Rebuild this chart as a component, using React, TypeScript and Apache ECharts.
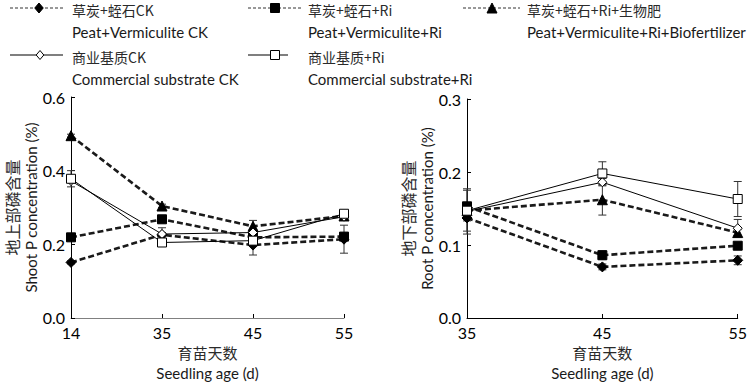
import React, { useEffect, useRef } from "react";
import * as echarts from "echarts";

const shootDays = ["14", "35", "45", "55"];
const rootDays = ["35", "45", "55"];

const seriesZh = ["草炭+蛭石CK", "草炭+蛭石+Ri", "草炭+蛭石+Ri+生物肥", "商业基质CK", "商业基质+Ri"];
const seriesEn = [
  "Peat+Vermiculite CK",
  "Peat+Vermiculite+Ri",
  "Peat+Vermiculite+Ri+Biofertilizer",
  "Commercial substrate CK",
  "Commercial substrate+Ri",
];

// Shoot P concentration (%)
const shootPVCK = [0.151, 0.226, 0.198, 0.214];
const shootPVRi = [0.219, 0.268, 0.219, 0.221];
const shootPVRiB = [0.495, 0.304, 0.249, 0.277];
const shootCSCK = [0.372, 0.228, 0.232, 0.275];
const shootCSRi = [0.378, 0.205, 0.21, 0.283];
// Shoot standard errors
const shootErrPVCK = [0.004, 0.006, 0.027, 0.038];
const shootErrPVRi = [0.005, 0.006, 0.008, 0.01];
const shootErrPVRiB = [0.004, 0.005, 0.016, 0.006];
const shootErrCSCK = [0.004, 0.017, 0.005, 0.005];
const shootErrCSRi = [0.022, 0.005, 0.005, 0.005];

// Root P concentration (%)
const rootPVCK = [0.137, 0.07, 0.079];
const rootPVRi = [0.153, 0.086, 0.099];
const rootPVRiB = [0.147, 0.162, 0.117];
const rootCSCK = [0.146, 0.186, 0.123];
const rootCSRi = [0.147, 0.198, 0.163];
// Root standard errors
const rootErrPVCK = [0.004, 0.004, 0.006];
const rootErrPVRi = [0.004, 0.006, 0.004];
const rootErrPVRiB = [0.004, 0.021, 0.004];
const rootErrCSCK = [0.031, 0.005, 0.012];
const rootErrCSRi = [0.028, 0.016, 0.024];

const shootTicks = [0, 0.2, 0.4, 0.6];
const rootTicks = [0, 0.1, 0.2, 0.3];

const FONT = "Lato, 'Noto Sans CJK SC', sans-serif";
const ZH = "'Noto Sans CJK SC', sans-serif";

type Style = {
  symbol: string;
  size: number;
  fill: string;
  dashed: boolean;
};
const styles: Style[] = [
  { symbol: "diamond", size: 10, fill: "#000", dashed: true },
  { symbol: "rect", size: 9, fill: "#000", dashed: true },
  { symbol: "triangle", size: 10, fill: "#000", dashed: true },
  { symbol: "diamond", size: 9, fill: "#fff", dashed: false },
  { symbol: "rect", size: 9, fill: "#fff", dashed: false },
];

function lineSeries(idx: number, values: number[], axis: number) {
  const s = styles[idx];
  return {
    type: "line",
    name: seriesZh[idx],
    xAxisIndex: axis,
    yAxisIndex: axis,
    data: values,
    symbol: s.symbol,
    symbolSize: s.size,
    showAllSymbol: true,
    z: s.dashed ? 3 : 4,
    itemStyle: { color: s.fill, borderColor: "#000", borderWidth: 1 },
    lineStyle: s.dashed
      ? { color: "#1a1a1a", width: 2.6, type: [6, 3] }
      : { color: "#000", width: 1, type: "solid" },
  };
}

function errSeries(values: number[], errs: number[], axis: number) {
  return {
    type: "custom",
    xAxisIndex: axis,
    yAxisIndex: axis,
    z: 2,
    silent: true,
    data: values.map((v, i) => [i, v - errs[i], v + errs[i]]),
    renderItem: (params: any, api: any) => {
      const lo = api.coord([api.value(0), api.value(1)]);
      const hi = api.coord([api.value(0), api.value(2)]);
      const x = lo[0];
      const w = 4;
      const st = { stroke: "#333", lineWidth: 1 };
      return {
        type: "group",
        children: [
          { type: "line", shape: { x1: x, y1: lo[1], x2: x, y2: hi[1] }, style: st },
          { type: "line", shape: { x1: x - w, y1: lo[1], x2: x + w, y2: lo[1] }, style: st },
          { type: "line", shape: { x1: x - w, y1: hi[1], x2: x + w, y2: hi[1] }, style: st },
        ],
      };
    },
  };
}

function legendItem(idx: number, x0: number, y0: number, lineLen: number, symX: number, textX: number) {
  const s = styles[idx];
  const children: any[] = [];
  children.push({
    type: "line",
    shape: { x1: x0, y1: y0, x2: x0 + lineLen, y2: y0 },
    style: s.dashed
      ? { stroke: "#333", lineWidth: 1, lineDash: [3, 2] }
      : { stroke: "#000", lineWidth: 1.2 },
  });
  const h = s.size / 2;
  if (s.symbol === "diamond") {
    children.push({
      type: "polygon",
      shape: { points: [[symX, y0 - h], [symX + h * 0.85, y0], [symX, y0 + h], [symX - h * 0.85, y0]] },
      style: { fill: s.fill, stroke: "#000", lineWidth: 1 },
    });
  } else if (s.symbol === "rect") {
    children.push({
      type: "rect",
      shape: { x: symX - h, y: y0 - h, width: 2 * h, height: 2 * h },
      style: { fill: s.fill, stroke: "#000", lineWidth: 1 },
    });
  } else {
    children.push({
      type: "polygon",
      shape: { points: [[symX, y0 - h], [symX + h, y0 + h], [symX - h, y0 + h]] },
      style: { fill: s.fill, stroke: "#000", lineWidth: 1 },
    });
  }
  children.push({
    type: "text",
    x: textX,
    y: y0 + 2,
    style: { text: seriesZh[idx], fontSize: 14, fontFamily: ZH, fill: "#2a2a2a", verticalAlign: "middle" },
  });
  children.push({
    type: "text",
    x: textX,
    y: y0 + 24,
    style: { text: seriesEn[idx], fontSize: 15, fontFamily: FONT, fill: "#1a1a1a", verticalAlign: "middle" },
  });
  return { type: "group", children };
}

export default function App() {
  const ref = useRef<HTMLDivElement>(null);
  useEffect(() => {
    if (!ref.current) return;
    const chart = echarts.init(ref.current, null, { renderer: "svg" });

    const xAxisBase = (data: string[], lineColor: string, gridIndex: number) => ({
      type: "category",
      gridIndex,
      data,
      boundaryGap: false,
      axisLine: { show: true, lineStyle: { color: lineColor, width: 1 } },
      axisTick: { show: true, inside: true, length: 4, alignWithLabel: true, lineStyle: { color: "#000" } },
      axisLabel: { color: "#000", fontSize: 16, fontFamily: FONT, margin: 6 },
      splitLine: { show: false },
      name: "{zh|育苗天数}\n{en|Seedling age (d)}",
      nameLocation: "middle",
      nameGap: 24,
      nameTextStyle: {
        rich: {
          zh: { fontSize: 15, fontFamily: ZH, color: "#2a2a2a", lineHeight: 21 },
          en: { fontSize: 15, fontFamily: FONT, color: "#1a1a1a", lineHeight: 21 },
        },
      },
    });

    const yAxisBase = (max: number, interval: number, zh: string, en: string, gridIndex: number, gap: number) => ({
      type: "value",
      gridIndex,
      min: 0,
      max,
      interval,
      axisLine: { show: true, lineStyle: { color: "#000", width: 1 } },
      axisTick: { show: true, inside: true, length: 4, lineStyle: { color: "#000" } },
      axisLabel: { color: "#000", fontSize: 16, fontFamily: FONT, margin: 6, formatter: (v: number) => v.toFixed(1) },
      splitLine: { show: false },
      name: `{zh|${zh}}\n{en|${en}}`,
      nameLocation: "middle",
      nameRotate: 90,
      nameGap: gap,
      nameTextStyle: {
        rich: {
          zh: { fontSize: 16, fontFamily: ZH, color: "#2a2a2a", lineHeight: 19 },
          en: { fontSize: 15, fontFamily: FONT, color: "#1a1a1a", lineHeight: 19 },
        },
      },
    });

    const option: any = {
      animation: false,
      backgroundColor: "#fff",
      textStyle: { fontFamily: FONT },
      grid: [
        { left: 71, top: 97, width: 273, height: 222, containLabel: false },
        { left: 467, top: 99, width: 273, height: 220, containLabel: false },
      ],
      xAxis: [xAxisBase(shootDays, "#808080", 0), xAxisBase(rootDays, "#000", 1)],
      yAxis: [
        yAxisBase(shootTicks[shootTicks.length - 1], shootTicks[1] - shootTicks[0], "地上部磷含量", "Shoot P concentration (%)", 0, 27),
        yAxisBase(rootTicks[rootTicks.length - 1], rootTicks[1] - rootTicks[0], "地下部磷含量", "Root P concentration (%)", 1, 30),
      ],
      series: [
        errSeries(shootPVCK, shootErrPVCK, 0),
        errSeries(shootPVRi, shootErrPVRi, 0),
        errSeries(shootPVRiB, shootErrPVRiB, 0),
        errSeries(shootCSCK, shootErrCSCK, 0),
        errSeries(shootCSRi, shootErrCSRi, 0),
        lineSeries(0, shootPVCK, 0),
        lineSeries(1, shootPVRi, 0),
        lineSeries(2, shootPVRiB, 0),
        lineSeries(3, shootCSCK, 0),
        lineSeries(4, shootCSRi, 0),
        errSeries(rootPVCK, rootErrPVCK, 1),
        errSeries(rootPVRi, rootErrPVRi, 1),
        errSeries(rootPVRiB, rootErrPVRiB, 1),
        errSeries(rootCSCK, rootErrCSCK, 1),
        errSeries(rootCSRi, rootErrCSRi, 1),
        lineSeries(0, rootPVCK, 1),
        lineSeries(1, rootPVRi, 1),
        lineSeries(2, rootPVRiB, 1),
        lineSeries(3, rootCSCK, 1),
        lineSeries(4, rootCSRi, 1),
      ],
      graphic: [
        legendItem(0, 10, 8, 55, 39, 72),
        legendItem(1, 248, 8, 55, 275, 308),
        legendItem(2, 463, 8, 57, 492, 527),
        legendItem(3, 10, 55, 53, 40, 72),
        legendItem(4, 248, 55, 40, 275, 308),
      ],
    };
    chart.setOption(option);
    return () => chart.dispose();
  }, []);

  return (
    <div
      ref={ref}
      style={{ position: "fixed", left: 0, top: 0, width: 750, height: 386, background: "#fff" }}
    />
  );
}
